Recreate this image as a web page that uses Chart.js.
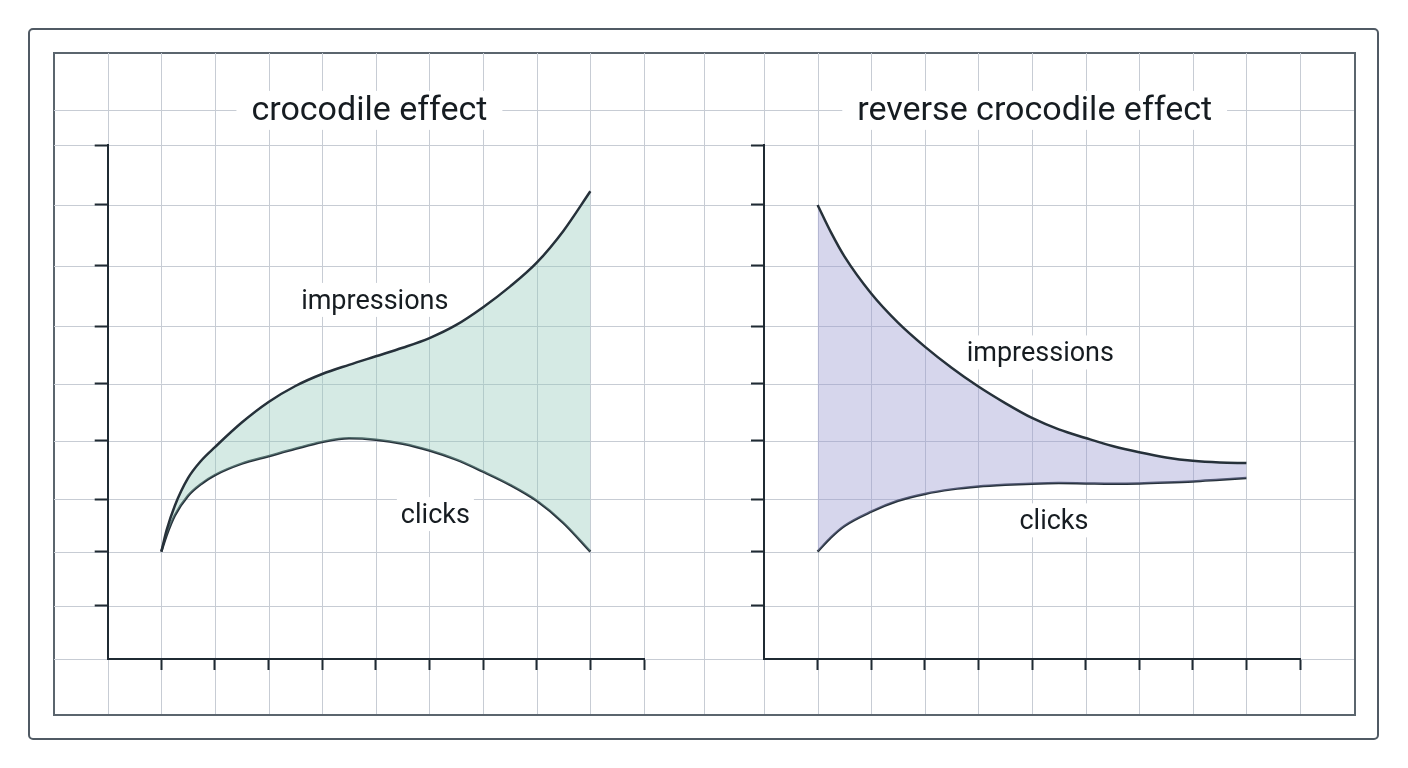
<!DOCTYPE html>
<html>
<head>
<meta charset="utf-8">
<script src="https://cdn.jsdelivr.net/npm/chart.js@4.4.1/dist/chart.umd.min.js"></script>
<style>
html,body{margin:0;padding:0;background:#ffffff;width:1408px;height:768px;overflow:hidden;}
#outer{position:absolute;left:28px;top:27.5px;width:1351px;height:712.5px;border:2px solid #505a64;border-radius:5px;box-sizing:border-box;}
#inner{position:absolute;left:52.5px;top:51.5px;width:1303px;height:664px;border:2px solid #5b656e;box-sizing:border-box;}
canvas{position:absolute;}
#cl{left:54px;top:53px;}
#cr{left:710px;top:53px;}
</style>
</head>
<body>
<div id="outer"></div>
<div id="inner"></div>
<canvas id="cl" width="656" height="661" style="width:656px;height:661px"></canvas>
<canvas id="cr" width="644" height="661" style="width:644px;height:661px"></canvas>
<script>
// ---------- data ----------
const titles = ['crocodile effect', 'reverse crocodile effect'];
const seriesNames = ['impressions', 'clicks'];

const xLeft = [1, 1.1, 1.25, 1.5, 1.75, 2, 2.5, 3, 3.5, 4, 4.5, 5, 5.5, 6, 6.5, 7, 7.5, 8, 8.5, 9];
const impressionsLeft = [1.88, 2.26, 2.68, 3.17, 3.48, 3.71, 4.14, 4.50, 4.78, 4.99, 5.15, 5.30, 5.45, 5.62, 5.85, 6.16, 6.52, 6.94, 7.50, 8.19];
const clicksLeft      = [1.88, 2.17, 2.51, 2.86, 3.07, 3.22, 3.42, 3.55, 3.68, 3.80, 3.865, 3.84, 3.77, 3.65, 3.49, 3.28, 3.05, 2.77, 2.38, 1.88];

const xRight = [1, 1.25, 1.5, 2, 2.5, 3, 3.5, 4, 4.5, 5, 5.5, 6, 6.5, 7, 7.5, 8, 8.5, 9];
const impressionsRight = [7.95, 7.47, 7.05, 6.40, 5.89, 5.47, 5.10, 4.77, 4.48, 4.22, 4.02, 3.87, 3.73, 3.62, 3.53, 3.47, 3.44, 3.43];
const clicksRight      = [1.88, 2.13, 2.33, 2.58, 2.77, 2.89, 2.97, 3.02, 3.05, 3.07, 3.08, 3.075, 3.07, 3.075, 3.09, 3.11, 3.14, 3.17];

const xTickValues = [1, 2, 3, 4, 5, 6, 7, 8, 9, 10];
const yTickValues = [0.93, 1.88, 2.80, 3.82, 4.82, 5.83, 6.89, 7.95, 9];

// ---------- styles ----------
const axisColor = '#1f2a33';
const curveColor = '#26313a';
const paperColor = '#c7ccd4';
const textColor = '#161c21';
const fillLeft = 'rgba(150,203,188,0.40)';
const fillRight = 'rgba(152,152,208,0.40)';

const paperPlugin = {
  id: 'paper',
  beforeDraw(chart, args, opts) {
    const {ctx, width, height} = chart;
    const xs = chart.scales.x, ys = chart.scales.y;
    ctx.save();
    ctx.strokeStyle = paperColor;
    ctx.lineWidth = 1;
    ctx.beginPath();
    opts.xLines.forEach(v => {
      const p = Math.round(xs.getPixelForValue(v)) + 0.5;
      ctx.moveTo(p, 0); ctx.lineTo(p, height);
    });
    opts.yLines.forEach(v => {
      const p = Math.round(ys.getPixelForValue(v)) + 0.5;
      ctx.moveTo(0, p); ctx.lineTo(width, p);
    });
    ctx.stroke();
    // title on a white band
    ctx.font = '34px Roboto';
    ctx.textAlign = 'center';
    ctx.textBaseline = 'alphabetic';
    const cx = xs.getPixelForValue(opts.titleX);
    const by = ys.getPixelForValue(opts.titleY);
    const w = ctx.measureText(opts.title).width;
    ctx.fillStyle = '#ffffff';
    ctx.fillRect(cx - w / 2 - 15, by - 29, w + 30, 39);
    ctx.fillStyle = textColor;
    ctx.fillText(opts.title, cx, by);
    ctx.restore();
  },
  beforeDatasetsDraw(chart, args, opts) {
    const {ctx} = chart;
    const xs = chart.scales.x, ys = chart.scales.y;
    ctx.save();
    ctx.font = '27px Roboto';
    ctx.textAlign = 'center';
    ctx.textBaseline = 'alphabetic';
    opts.labels.forEach(l => {
      const px = xs.getPixelForValue(l.x), py = ys.getPixelForValue(l.y);
      const w = ctx.measureText(l.text).width;
      ctx.fillStyle = '#ffffff';
      ctx.fillRect(px - w / 2 - 4, py - 26, w + 8, 34);
      ctx.fillStyle = textColor;
      ctx.fillText(l.text, px, py);
    });
    ctx.restore();
  }
};

function makeChart(canvasId, xs, imp, clk, fillColor, cfg) {
  const toPts = arr => xs.map((x, i) => ({x: x, y: arr[i]}));
  return new Chart(document.getElementById(canvasId), {
    type: 'line',
    data: {
      datasets: [
        {label: seriesNames[0], data: toPts(imp), borderColor: curveColor, borderWidth: 2.5,
         pointRadius: 0, cubicInterpolationMode: 'monotone', fill: '+1', backgroundColor: fillColor},
        {label: seriesNames[1], data: toPts(clk), borderColor: curveColor, borderWidth: 2.5,
         pointRadius: 0, cubicInterpolationMode: 'monotone', fill: false}
      ]
    },
    options: {
      responsive: false,
      animation: false,
      events: [],
      layout: {autoPadding: false, padding: {top: 92, right: cfg.padRight, left: 0, bottom: 0}},
      scales: {
        x: {
          type: 'linear', min: 0, max: 10,
          afterBuildTicks: s => { s.ticks = xTickValues.map(v => ({value: v})); },
          afterFit: s => { s.height = 55; },
          ticks: {display: false},
          grid: {drawOnChartArea: false, drawTicks: true, tickLength: 11, tickColor: axisColor, tickWidth: 2},
          border: {display: true, color: axisColor, width: 2}
        },
        y: {
          type: 'linear', min: 0, max: 9,
          afterBuildTicks: s => { s.ticks = yTickValues.map(v => ({value: v})); },
          afterFit: s => { s.width = cfg.yWidth; },
          ticks: {display: false},
          grid: {drawOnChartArea: false, drawTicks: true, tickLength: 13, tickColor: axisColor, tickWidth: 2},
          border: {display: true, color: axisColor, width: 2}
        }
      },
      plugins: {
        legend: {display: false},
        tooltip: {enabled: false},
        title: {display: false},
        paper: {
          xLines: cfg.xLines,
          yLines: [0].concat(yTickValues, [9.613]),
          title: cfg.title,
          titleX: cfg.titleX,
          titleY: 9.44,
          labels: cfg.labels
        }
      }
    },
    plugins: [paperPlugin]
  });
}

makeChart('cl', xLeft, impressionsLeft, clicksLeft, fillLeft, {
  padRight: 66, yWidth: 53.7, title: titles[0], titleX: 4.88,
  xLines: [0, 1, 2, 3, 4, 5, 6, 7, 8, 9, 10, 11.12],
  labels: [
    {text: seriesNames[0], x: 4.98, y: 6.13},
    {text: seriesNames[1], x: 6.11, y: 2.38}
  ]
});

makeChart('cr', xRight, impressionsRight, clicksRight, fillRight, {
  padRight: 54, yWidth: 54, title: titles[1], titleX: 5.05,
  xLines: [0, 1, 2, 3, 4, 5, 6, 7, 8, 9, 10],
  labels: [
    {text: seriesNames[0], x: 5.155, y: 5.21},
    {text: seriesNames[1], x: 5.41, y: 2.27}
  ]
});
</script>
</body>
</html>
